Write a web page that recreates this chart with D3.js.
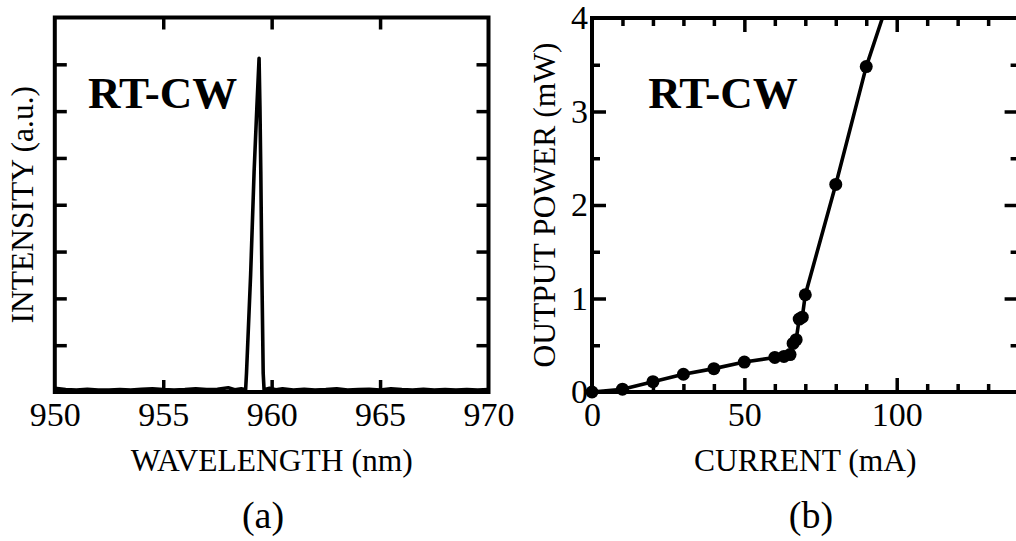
<!DOCTYPE html>
<html>
<head>
<meta charset="utf-8">
<script src="https://cdn.jsdelivr.net/npm/d3@7"></script>
<style>
  html, body { margin: 0; padding: 0; background: #fff; }
  svg { display: block; }
  text { font-family: "Liberation Serif", "Times New Roman", serif; fill: #000; }
</style>
</head>
<body>
<svg id="fig" width="1016" height="541"></svg>
<script>
// ---- (a) lasing spectrum ----
const wavelength = [950.0, 950.5, 951.0, 951.5, 952.0, 952.5, 953.0, 953.5, 954.0, 954.5,
  955.0, 955.5, 956.0, 956.5, 957.0, 957.5, 958.0, 958.3, 958.6, 958.80,
  958.84, 959.03, 959.19, 959.32, 959.42, 959.46, 959.50, 959.55, 959.61, 959.65,
  959.9, 960.2, 960.5, 961.0, 961.5, 962.0, 962.5, 963.0, 963.5, 964.0,
  964.5, 965.0, 965.5, 966.0, 966.5, 967.0, 967.5, 968.0, 968.5, 969.0, 969.5, 970.0];
const intensity = [0.08, 0.05, 0.04, 0.06, 0.04, 0.04, 0.05, 0.04, 0.06, 0.07,
  0.05, 0.04, 0.05, 0.07, 0.05, 0.06, 0.09, 0.05, 0.07, 0.05,
  0.40, 2.50, 4.70, 6.10, 7.13, 6.10, 4.70, 2.50, 0.40, 0.05,
  0.08, 0.05, 0.07, 0.04, 0.06, 0.04, 0.05, 0.07, 0.04, 0.05,
  0.06, 0.04, 0.07, 0.05, 0.04, 0.06, 0.04, 0.05, 0.04, 0.05, 0.04, 0.05];
const wlTicks = [950, 955, 960, 965, 970];
const intensityTicks = [1, 2, 3, 4, 5, 6, 7];

// ---- (b) light-current characteristic ----
const current = [0, 10, 20, 30, 40, 50, 60, 63, 65, 66, 67, 68, 69, 70, 80, 90];
const power   = [0, 0.03, 0.11, 0.19, 0.25, 0.32, 0.37, 0.38, 0.40, 0.52, 0.56, 0.78, 0.80, 1.04, 2.22, 3.48];
// fitted line through the measurements, continued past the frame top
const fitCurrent = [0, 10, 20, 30, 40, 50, 60, 65, 66, 67, 68, 69, 70, 80, 90, 95.3];
const fitPower   = [0, 0.03, 0.11, 0.19, 0.25, 0.32, 0.37, 0.40, 0.52, 0.56, 0.78, 0.80, 1.04, 2.22, 3.48, 4.0];
const currentMajor = [0, 50, 100];
const currentMinor = [10, 20, 30, 40, 60, 70, 80, 90, 110, 120, 130];
const powerMajor = [0, 1, 2, 3, 4];
const powerMinor = [0.5, 1.5, 2.5, 3.5];

const panelLabels = ["(a)", "(b)"];
const badge = "RT-CW";

const svg = d3.select("#fig");
svg.append("rect").attr("width", 1016).attr("height", 541).attr("fill", "#fff");

const FRAME_W = 4, LINE_W = 3.6;
const TICK_FONT = 34, TITLE_FONT = 31.5;

function styleAxis(g) {
  g.select(".domain").remove();
  g.selectAll(".tick line").attr("stroke", "#000").attr("stroke-width", 3.5);
  g.selectAll(".tick text").attr("font-size", TICK_FONT)
    .attr("font-family", "Liberation Serif, Times New Roman, serif");
}

// ================= panel (a) =================
const xA = d3.scaleLinear().domain([950, 970]).range([54.8, 488.5]);
const yA = d3.scaleLinear().domain([0, 8]).range([392, 17.5]);
const gA = svg.append("g");

svg.append("clipPath").attr("id", "clipA").append("rect")
  .attr("x", xA(950)).attr("y", yA(8)).attr("width", xA(970) - xA(950)).attr("height", yA(0) - yA(8));

gA.append("path")
  .datum(d3.zip(wavelength, intensity))
  .attr("fill", "none").attr("stroke", "#000").attr("stroke-width", LINE_W)
  .attr("stroke-linejoin", "round")
  .attr("clip-path", "url(#clipA)")
  .attr("d", d3.line().x(d => xA(d[0])).y(d => yA(d[1])));

// inward ticks on all four sides
gA.append("g").attr("transform", `translate(0,${yA(0)})`)
  .call(d3.axisBottom(xA).tickValues(wlTicks).tickSize(-12).tickPadding(10).tickFormat(d3.format("d")))
  .call(styleAxis)
  .call(g => g.selectAll(".tick").filter(d => d === 950 || d === 970).select("line").remove());
gA.append("g").attr("transform", `translate(0,${yA(8)})`)
  .call(d3.axisTop(xA).tickValues(wlTicks.slice(1, -1)).tickSize(-12).tickFormat(""))
  .call(styleAxis);
gA.append("g").attr("transform", `translate(${xA(950)},0)`)
  .call(d3.axisLeft(yA).tickValues(intensityTicks).tickSize(-12).tickFormat(""))
  .call(styleAxis);
gA.append("g").attr("transform", `translate(${xA(970)},0)`)
  .call(d3.axisRight(yA).tickValues(intensityTicks).tickSize(-12).tickFormat(""))
  .call(styleAxis);

gA.append("rect")
  .attr("x", xA(950)).attr("y", yA(8))
  .attr("width", xA(970) - xA(950)).attr("height", yA(0) - yA(8))
  .attr("fill", "none").attr("stroke", "#000").attr("stroke-width", FRAME_W);

gA.append("text").attr("x", xA(951.53)).attr("y", yA(6.07))
  .attr("font-size", 45).attr("font-weight", "bold").text(badge);

gA.append("text").attr("x", (xA(950) + xA(970)) / 2).attr("y", 471)
  .attr("text-anchor", "middle").attr("font-size", TITLE_FONT).text("WAVELENGTH (nm)");
gA.append("text")
  .attr("transform", `translate(33,${(yA(0) + yA(8)) / 2}) rotate(-90)`)
  .attr("text-anchor", "middle").attr("font-size", TITLE_FONT).text("INTENSITY (a.u.)");

// ================= panel (b) =================
const xB = d3.scaleLinear().domain([0, 140]).range([592, 1018.6]);
const yB = d3.scaleLinear().domain([0, 4]).range([392, 18]);
const gB = svg.append("g");

svg.append("clipPath").attr("id", "clipB").append("rect")
  .attr("x", xB(0)).attr("y", yB(4)).attr("width", xB(140) - xB(0)).attr("height", yB(0) - yB(4));

// bottom: labelled major ticks + minor ticks
gB.append("g").attr("transform", `translate(0,${yB(0)})`)
  .call(d3.axisBottom(xB).tickValues(currentMinor).tickSize(-8).tickFormat(""))
  .call(styleAxis);
gB.append("g").attr("transform", `translate(0,${yB(0)})`)
  .call(d3.axisBottom(xB).tickValues(currentMajor).tickSize(-14).tickPadding(10).tickFormat(d3.format("d")))
  .call(styleAxis)
  .call(g => g.selectAll(".tick").filter(d => d === 0).select("line").remove());
// top
gB.append("g").attr("transform", `translate(0,${yB(4)})`)
  .call(d3.axisTop(xB).tickValues(currentMinor).tickSize(-8).tickFormat(""))
  .call(styleAxis);
gB.append("g").attr("transform", `translate(0,${yB(4)})`)
  .call(d3.axisTop(xB).tickValues(currentMajor.slice(1)).tickSize(-14).tickFormat(""))
  .call(styleAxis);
// left: labelled
gB.append("g").attr("transform", `translate(${xB(0)},0)`)
  .call(d3.axisLeft(yB).tickValues(powerMinor).tickSize(-8).tickFormat(""))
  .call(styleAxis);
gB.append("g").attr("transform", `translate(${xB(0)},0)`)
  .call(d3.axisLeft(yB).tickValues(powerMajor).tickSize(-14).tickPadding(4).tickFormat(d3.format("d")))
  .call(styleAxis)
  .call(g => g.selectAll(".tick").filter(d => d === 0 || d === 4).select("line").remove());
// right
gB.append("g").attr("transform", `translate(${xB(140)},0)`)
  .call(d3.axisRight(yB).tickValues(powerMinor).tickSize(-8).tickFormat(""))
  .call(styleAxis);
gB.append("g").attr("transform", `translate(${xB(140)},0)`)
  .call(d3.axisRight(yB).tickValues(powerMajor.slice(1, -1)).tickSize(-14).tickFormat(""))
  .call(styleAxis);

gB.append("path")
  .datum(d3.zip(fitCurrent, fitPower))
  .attr("fill", "none").attr("stroke", "#000").attr("stroke-width", LINE_W)
  .attr("stroke-linejoin", "round")
  .attr("clip-path", "url(#clipB)")
  .attr("d", d3.line().x(d => xB(d[0])).y(d => yB(d[1])));

gB.append("rect")
  .attr("x", xB(0)).attr("y", yB(4))
  .attr("width", xB(140) - xB(0)).attr("height", yB(0) - yB(4))
  .attr("fill", "none").attr("stroke", "#000").attr("stroke-width", FRAME_W);

gB.append("g").selectAll("circle")
  .data(d3.zip(current, power))
  .join("circle")
  .attr("cx", d => xB(d[0])).attr("cy", d => yB(d[1]))
  .attr("r", 6.5).attr("fill", "#000");

gB.append("text").attr("x", xB(18.5)).attr("y", yB(3.04))
  .attr("font-size", 45).attr("font-weight", "bold").text(badge);

gB.append("text").attr("x", (xB(0) + xB(140)) / 2).attr("y", 471)
  .attr("text-anchor", "middle").attr("font-size", TITLE_FONT).text("CURRENT (mA)");
gB.append("text")
  .attr("transform", `translate(555,${(yB(0) + yB(4)) / 2}) rotate(-90)`)
  .attr("text-anchor", "middle").attr("font-size", TITLE_FONT).text("OUTPUT POWER (mW)");

// ---- sub-figure captions ----
svg.append("text").attr("x", 263).attr("y", 528).attr("text-anchor", "middle")
  .attr("font-size", 38).text(panelLabels[0]);
svg.append("text").attr("x", 811).attr("y", 528).attr("text-anchor", "middle")
  .attr("font-size", 38).text(panelLabels[1]);
</script>
</body>
</html>
